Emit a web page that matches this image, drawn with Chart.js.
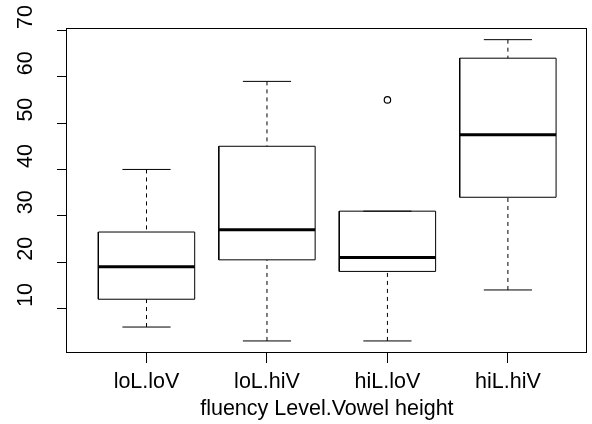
<!DOCTYPE html>
<html>
<head>
<meta charset="utf-8">
<script src="https://cdn.jsdelivr.net/npm/chart.js@4"></script>
<style>
  body { margin: 0; background: #fff; }
  canvas { display: block; }
</style>
</head>
<body>
<canvas id="boxChart" width="592" height="424"></canvas>
<script>
// five-number summaries per group
const groups = ['loL.loV', 'loL.hiV', 'hiL.loV', 'hiL.hiV'];
const whiskerLow = [6, 3, 3, 14];
const lowerQuartile = [12, 20.5, 18, 34];
const medians = [19, 27, 21, 47.5];
const upperQuartile = [26.5, 45, 31, 64];
const whiskerHigh = [40, 59, 31, 68];
const outlierGroup = [3];
const outlierValue = [55];
const yTickValues = [10, 20, 30, 40, 50, 60, 70];
const xTitle = 'fluency Level.Vowel height';

const FONT = '21.5px "Liberation Sans", Arial, sans-serif';
const BOX_HALF = 0.4;
const CAP_HALF = 0.2;
const GAP = { x: NaN, y: NaN };

const boxOutlines = [], medianLines = [], whiskerLines = [], capLines = [];
groups.forEach((g, i) => {
    const x = i + 1;
    boxOutlines.push(
        { x: x - BOX_HALF, y: lowerQuartile[i] }, { x: x + BOX_HALF, y: lowerQuartile[i] },
        { x: x + BOX_HALF, y: upperQuartile[i] }, { x: x - BOX_HALF, y: upperQuartile[i] },
        { x: x - BOX_HALF, y: lowerQuartile[i] }, GAP);
    medianLines.push({ x: x - BOX_HALF, y: medians[i] }, { x: x + BOX_HALF, y: medians[i] }, GAP);
    whiskerLines.push({ x: x, y: whiskerLow[i] }, { x: x, y: lowerQuartile[i] }, GAP,
        { x: x, y: whiskerHigh[i] }, { x: x, y: upperQuartile[i] }, GAP);
    capLines.push({ x: x - CAP_HALF, y: whiskerLow[i] }, { x: x + CAP_HALF, y: whiskerLow[i] }, GAP,
        { x: x - CAP_HALF, y: whiskerHigh[i] }, { x: x + CAP_HALF, y: whiskerHigh[i] }, GAP);
});
const outliers = outlierGroup.map((g, i) => ({ x: g, y: outlierValue[i] }));

const segment = (data, extra) => Object.assign({
    data: data,
    showLine: true,
    borderColor: '#000',
    borderWidth: 1,
    pointRadius: 0,
    tension: 0,
    spanGaps: false
}, extra);

// frame and all text drawn on top of the chart
const framePlugin = {
    id: 'frameAndLabels',
    afterDraw(chart) {
        const { ctx, chartArea: a } = chart;
        const xs = chart.scales.x, ys = chart.scales.y;
        ctx.save();
        ctx.strokeStyle = '#000';
        ctx.lineWidth = 1;
        ctx.strokeRect(Math.round(a.left) - 0.5, Math.round(a.top) - 0.5,
            Math.round(a.right - a.left), Math.round(a.bottom - a.top));

        ctx.fillStyle = '#000';
        ctx.font = FONT;
        ctx.textBaseline = 'alphabetic';
        ctx.textAlign = 'center';
        groups.forEach((g, i) => {
            ctx.fillText(g, xs.getPixelForValue(i + 1), a.bottom + 35);
        });
        ctx.fillText(xTitle, (a.left + a.right) / 2, a.bottom + 62);

        ctx.textAlign = 'left';
        yTickValues.forEach(v => {
            ctx.save();
            ctx.translate(a.left - 35, ys.getPixelForValue(v) - 1.5);
            ctx.rotate(-Math.PI / 2);
            ctx.fillText(String(v), 0, 0);
            ctx.restore();
        });
        ctx.restore();
    }
};

new Chart(document.getElementById('boxChart').getContext('2d'), {
    type: 'scatter',
    data: {
        datasets: [
            segment(whiskerLines, { borderDash: [4, 4] }),
            segment(capLines),
            segment(boxOutlines),
            segment(medianLines, { borderWidth: 3 }),
            {
                data: outliers,
                showLine: false,
                pointStyle: 'circle',
                pointRadius: 3.2,
                pointBorderWidth: 1.2,
                pointBorderColor: '#000',
                pointBackgroundColor: 'rgba(0,0,0,0)'
            }
        ]
    },
    options: {
        responsive: false,
        animation: false,
        devicePixelRatio: 1,
        layout: { padding: { top: 29, right: 3, left: 0, bottom: 0 } },
        plugins: {
            legend: { display: false },
            tooltip: { enabled: false }
        },
        scales: {
            x: {
                type: 'linear',
                min: 0.34,
                max: 4.655,
                afterBuildTicks: s => { s.ticks = groups.map((g, i) => ({ value: i + 1 })); },
                afterFit: s => { s.height = 71; },
                ticks: { display: false },
                border: { display: false },
                grid: { drawOnChartArea: false, drawTicks: true, tickLength: 10, color: '#000', lineWidth: 1 }
            },
            y: {
                type: 'linear',
                min: 0.4,
                max: 70.3,
                afterBuildTicks: s => { s.ticks = yTickValues.map(v => ({ value: v })); },
                afterFit: s => { s.width = 67; },
                ticks: { display: false },
                border: { display: false },
                grid: { drawOnChartArea: false, drawTicks: true, tickLength: 10, color: '#000', lineWidth: 1 }
            }
        }
    },
    plugins: [framePlugin]
});
</script>
</body>
</html>
